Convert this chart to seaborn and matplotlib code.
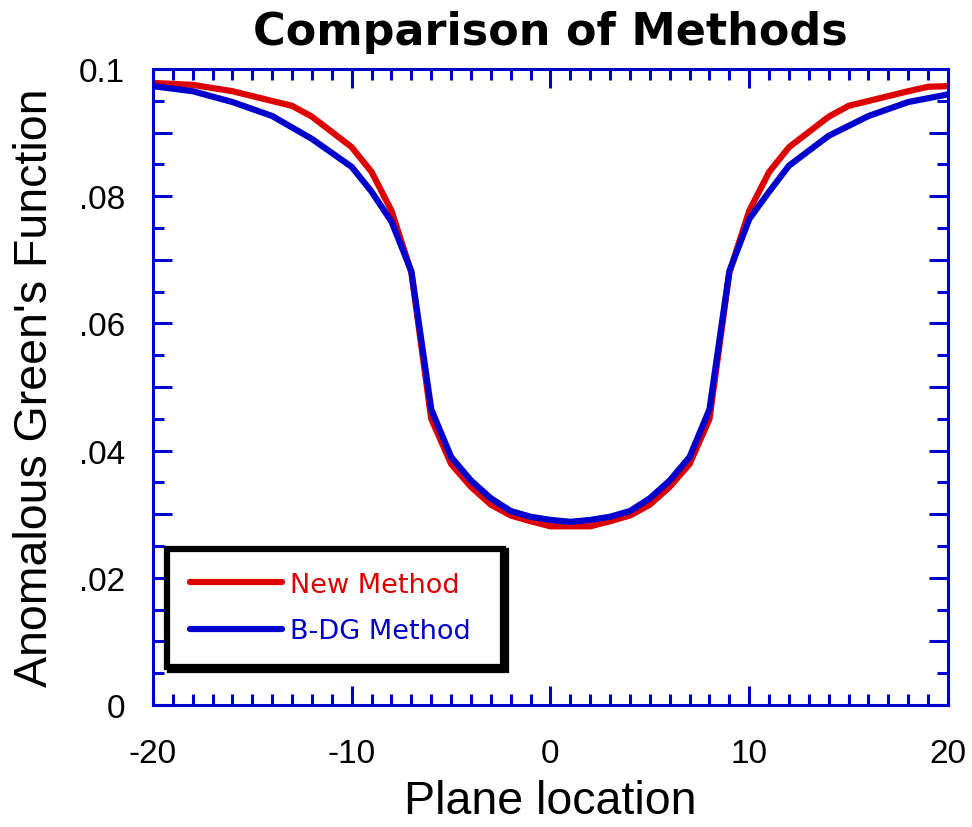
import numpy as np
import pandas as pd
import matplotlib
matplotlib.use("Agg")
import matplotlib.pyplot as plt
from matplotlib.ticker import MultipleLocator, FuncFormatter
import seaborn as sns

# ---- data ----
new_x = [-20, -18, -16, -13, -12, -10, -9, -8, -7, -6, -5, -4, -3, -2, -1, 0, 1, 2,
         3, 4, 5, 6, 7, 8, 9, 10, 11, 12, 14, 15, 18, 19, 20]
new_y = [0.0978, 0.0975, 0.0965, 0.0942, 0.0925, 0.0877, 0.0838, 0.0777, 0.0680,
         0.0450, 0.0379, 0.0343, 0.0315, 0.0298, 0.0289, 0.0281, 0.0281, 0.0281,
         0.0289, 0.0298, 0.0315, 0.0343, 0.0379, 0.0450, 0.0680, 0.0777, 0.0838,
         0.0877, 0.0925, 0.0942, 0.0965, 0.0972, 0.0973]

bdg_x = [-20, -18, -16, -14, -12, -10, -9, -8, -7, -6, -5, -4, -3, -2, -1, 0, 1, 2,
         3, 4, 5, 6, 7, 8, 9, 10, 11, 12, 14, 16, 18, 20]
bdg_y = [0.0973, 0.0965, 0.0948, 0.0926, 0.0890, 0.0846, 0.0807, 0.0760, 0.0682,
         0.0465, 0.0390, 0.0353, 0.0325, 0.0305, 0.0296, 0.0291, 0.0288, 0.0291,
         0.0296, 0.0305, 0.0325, 0.0353, 0.0390, 0.0465, 0.0682, 0.0764, 0.0807,
         0.0848, 0.0895, 0.0926, 0.0948, 0.0960]

series_names = ["New Method", "B-DG Method"]
title = "Comparison of Methods"
xlabel = "Plane location"
ylabel = "Anomalous Green's Function"

df = pd.concat([
    pd.DataFrame({"x": new_x, "y": new_y, "Method": series_names[0]}),
    pd.DataFrame({"x": bdg_x, "y": bdg_y, "Method": series_names[1]}),
], ignore_index=True)

sns.set_theme(style="white")
plt.rcParams["font.family"] = ["Liberation Sans", "DejaVu Sans"]
plt.rcParams["text.color"] = "black"
plt.rcParams["axes.labelcolor"] = "black"

RED = "#dd0000"
BLUE = "#0000cc"

fig = plt.figure(figsize=(9.72, 8.28), dpi=100)
ax = fig.add_axes([0.1574, 0.1473, 0.8179, 0.7682])

sns.lineplot(data=df, x="x", y="y", hue="Method", palette={series_names[0]: RED, series_names[1]: BLUE},
             estimator=None, sort=False, linewidth=4.5, ax=ax, legend=True)

ax.set_xlim(-20, 20)
ax.set_ylim(0, 0.1)

for s in ax.spines.values():
    s.set_color(BLUE)
    s.set_linewidth(2.2)
    s.set_visible(True)

ax.xaxis.set_major_locator(MultipleLocator(10))
ax.xaxis.set_minor_locator(MultipleLocator(1))
ax.yaxis.set_major_locator(MultipleLocator(0.01))
ax.yaxis.set_minor_locator(MultipleLocator(0.005))

def yfmt(v, pos):
    k = int(round(v * 100))
    if k % 2:
        return ""
    if k == 0:
        return "0"
    if k == 10:
        return "0.1"
    return ".%02d" % k

ax.yaxis.set_major_formatter(FuncFormatter(yfmt))
ax.xaxis.set_major_formatter(FuncFormatter(lambda v, p: "%d" % v))

ax.tick_params(which="both", direction="in", top=True, right=True, bottom=True, left=True,
               color=BLUE, width=2.2, labelcolor="black")
ax.tick_params(which="major", length=14)
ax.tick_params(which="minor", length=8)
ax.tick_params(axis="x", which="major", labelsize=24, pad=24)
ax.tick_params(axis="y", which="major", labelsize=24, pad=20)

ax.set_xlabel(xlabel, fontsize=33.5, labelpad=7, color="black")
ax.set_ylabel(ylabel, fontsize=33.5, labelpad=16, color="black")
ax.set_title(title, fontsize=32, fontweight="bold", pad=18, color="black",
             family=["DejaVu Sans"])
ax.grid(False)

handles, labels = ax.get_legend_handles_labels()
leg = ax.legend(handles, labels, loc="lower left", bbox_to_anchor=(0.0176, 0.0597, 0.4226, 0.1887),
                mode="expand", borderaxespad=0, handlelength=3.4, handletextpad=0.3,
                labelspacing=0.75, borderpad=0.85, fancybox=False, frameon=True,
                prop={"family": "DejaVu Sans", "size": 19.5},
                shadow={"color": "black", "alpha": 1.0}, labelcolor="linecolor")
frame = leg.get_frame()
frame.set_edgecolor("black")
frame.set_linewidth(4.5)
frame.set_facecolor("white")
frame.set_alpha(1.0)
for line in leg.get_lines():
    line.set_linewidth(4.5)

fig.savefig("out.png", dpi=100)
